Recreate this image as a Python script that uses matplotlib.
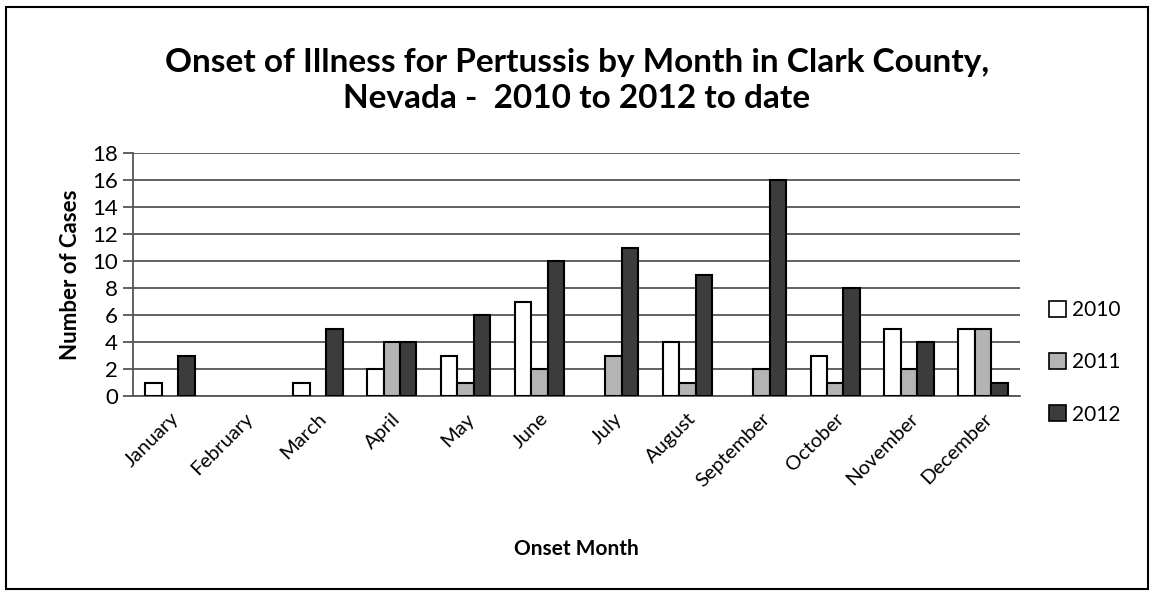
import matplotlib
matplotlib.use("Agg")
import matplotlib.pyplot as plt
import numpy as np
from matplotlib.patches import Rectangle, Patch

months = ["January", "February", "March", "April", "May", "June", "July",
          "August", "September", "October", "November", "December"]
years = ["2010", "2011", "2012"]
cases_2010 = [1, 0, 1, 2, 3, 7, 0, 4, 0, 3, 5, 5]
cases_2011 = [0, 0, 0, 4, 1, 2, 3, 1, 2, 1, 2, 5]
cases_2012 = [3, 0, 5, 4, 6, 10, 11, 9, 16, 8, 4, 1]
yticks = list(range(0, 19, 2))

plt.rcParams['font.family'] = ['Lato', 'DejaVu Sans']
colors = ["#ffffff", "#b4b4b4", "#3c3c3c"]

fig = plt.figure(figsize=(11.54, 5.94), dpi=100)
ax = fig.add_axes([0.1153, 0.3333, 0.7686, 0.4091])

x = np.arange(len(months))
w = 0.223
for i, (vals, c) in enumerate(zip([cases_2010, cases_2011, cases_2012], colors)):
    lws = [1.5 if v > 0 else 0 for v in vals]
    ax.bar(x + (i - 1) * w, vals, width=w, color=c, edgecolor="black",
           linewidth=lws, zorder=3, label=years[i])

ax.set_xlim(-0.5, len(months) - 0.5)
ax.set_ylim(0, 18)
ax.set_yticks(yticks)
ax.set_yticklabels([str(t) for t in yticks], fontsize=16)
ax.yaxis.grid(True, color="#555555", linewidth=1.3, zorder=0)
ax.set_axisbelow(True)
for s in ["top", "right"]:
    ax.spines[s].set_visible(False)
ax.spines["left"].set_color("#555555")
ax.spines["bottom"].set_color("#555555")
ax.spines["left"].set_linewidth(1.3)
ax.spines["bottom"].set_linewidth(1.3)
ax.tick_params(axis="y", length=7, color="#555555", width=1.3, pad=4)
ax.tick_params(axis="x", length=0, pad=10)
ax.set_xticks(x)
ax.set_xticklabels(months, rotation=45, ha="right", rotation_mode="anchor", fontsize=14.5)
ax.set_ylabel("Number of Cases", fontsize=16, fontweight="bold", labelpad=8)
ax.set_xlabel("Onset Month", fontsize=15, fontweight="bold", labelpad=35)

fig.text(0.5, 0.865, "Onset of Illness for Pertussis by Month in Clark County,\nNevada -  2010 to 2012 to date",
         ha="center", va="center", fontsize=24, fontweight="bold", linespacing=1.3)

handles = [Patch(facecolor=c, edgecolor="black", linewidth=1.2) for c in colors]
fig.legend(handles, years, loc="center left", bbox_to_anchor=(0.893, 0.39),
           frameon=False, fontsize=15, handlelength=0.8, handleheight=0.8,
           handletextpad=0.3, labelspacing=1.55)

fig.patches.append(Rectangle((0.005, 0.008), 0.99, 0.98, transform=fig.transFigure,
                             fill=False, edgecolor="black", linewidth=1.5))

fig.savefig("out.png", dpi=100)
